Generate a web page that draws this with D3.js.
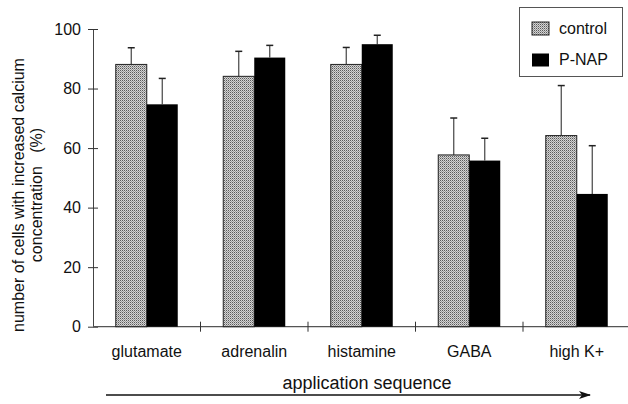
<!DOCTYPE html>
<html>
<head>
<meta charset="utf-8">
<script src="https://cdn.jsdelivr.net/npm/d3@7"></script>
<style>
  body { margin: 0; background: #fff; }
  text { font-family: "Liberation Sans", Arial, sans-serif; fill: #111; }
</style>
</head>
<body>
<script>
//chart data
var categories = ["glutamate", "adrenalin", "histamine", "GABA", "high K+"];
var series = ["control", "P-NAP"];
var controlValues = [88.1, 84.1, 88.1, 57.7, 64.2];
var controlErrors = [5.6, 8.4, 5.7, 12.4, 16.8];
var pnapValues = [74.7, 90.4, 94.9, 55.8, 44.6];
var pnapErrors = [8.7, 4.1, 3.0, 7.5, 16.2];
var yTicks = [0, 20, 40, 60, 80, 100];

//svg frame
var width = 628,
    height = 404;

var svg = d3.select("body")
    .append("svg")
    .attr("width", width)
    .attr("height", height);

//stipple pattern for control bars
var defs = svg.append("defs");
var pat = defs.append("pattern")
    .attr("id", "stipple")
    .attr("width", 2)
    .attr("height", 2)
    .attr("patternUnits", "userSpaceOnUse");
pat.append("rect").attr("width", 2).attr("height", 2).attr("fill", "#d4d4d4");
pat.append("rect").attr("width", 1).attr("height", 1).attr("fill", "#5a5a5a");
pat.append("rect").attr("x", 1).attr("y", 1).attr("width", 1).attr("height", 1).attr("fill", "#9a9a9a");

//arrow marker
defs.append("marker")
    .attr("id", "arrow")
    .attr("viewBox", "0 0 12 8")
    .attr("refX", 11)
    .attr("refY", 4)
    .attr("markerWidth", 12)
    .attr("markerHeight", 8)
    .attr("markerUnits", "userSpaceOnUse")
    .attr("orient", "auto")
    .append("path")
    .attr("d", "M0,0 L12,4 L0,8 L3,4 Z")
    .attr("fill", "#111");

//scales
var x = d3.scaleBand()
    .domain(categories)
    .range([93, 630.5]);

var y = d3.scaleLinear()
    .domain([0, 100])
    .range([326.7, 29]);

var barW = 31;

//axes
var yAxis = d3.axisLeft(y).tickValues(yTicks).tickSize(0).tickPadding(12);
var gy = svg.append("g")
    .attr("transform", "translate(93,0)")
    .call(yAxis);
gy.select(".domain").attr("stroke", "#444");
gy.selectAll("text").style("font-size", "16px").attr("font-family", null);
gy.selectAll(".tick").append("line")
    .attr("x1", -5).attr("x2", 5)
    .attr("stroke", "#333");

var gx = svg.append("g");
gx.append("line")
    .attr("x1", 93).attr("x2", 630)
    .attr("y1", y(0)).attr("y2", y(0))
    .attr("stroke", "#555")
    .attr("stroke-width", 1.3);
gx.selectAll(".xtick")
    .data(categories.slice(1))
    .enter()
    .append("line")
    .attr("class", "xtick")
    .attr("x1", function(d){ return x(d); })
    .attr("x2", function(d){ return x(d); })
    .attr("y1", y(0) - 5)
    .attr("y2", y(0) + 5)
    .attr("stroke", "#333");
gx.selectAll(".xlabel")
    .data(categories)
    .enter()
    .append("text")
    .attr("class", "xlabel")
    .attr("x", function(d){ return x(d) + x.bandwidth() / 2; })
    .attr("y", 357)
    .attr("text-anchor", "middle")
    .style("font-size", "16px")
    .text(function(d){ return d; });

//bars
var groups = svg.selectAll(".grp")
    .data(categories)
    .enter()
    .append("g")
    .attr("class", "grp");

function center(i){ return x(categories[i]) + x.bandwidth() / 2; }

//error bars (upward only)
function drawErr(vals, errs, offset){
    var g = svg.append("g");
    vals.forEach(function(v, i){
        var cx = center(i) + offset;
        g.append("line")
            .attr("x1", cx).attr("x2", cx)
            .attr("y1", y(v)).attr("y2", y(v + errs[i]))
            .attr("stroke", "#444").attr("stroke-width", 1.2);
        g.append("line")
            .attr("x1", cx - 3.5).attr("x2", cx + 3.5)
            .attr("y1", y(v + errs[i])).attr("y2", y(v + errs[i]))
            .attr("stroke", "#222").attr("stroke-width", 1.5);
    });
}
drawErr(controlValues, controlErrors, -barW / 2);
drawErr(pnapValues, pnapErrors, barW / 2);

svg.append("g").selectAll("rect")
    .data(controlValues)
    .enter()
    .append("rect")
    .attr("x", function(d, i){ return center(i) - barW; })
    .attr("y", function(d){ return y(d); })
    .attr("width", barW)
    .attr("height", function(d){ return y(0) - y(d); })
    .attr("fill", "url(#stipple)")
    .attr("stroke", "#222")
    .attr("stroke-width", 1);

svg.append("g").selectAll("rect")
    .data(pnapValues)
    .enter()
    .append("rect")
    .attr("x", function(d, i){ return center(i); })
    .attr("y", function(d){ return y(d); })
    .attr("width", barW)
    .attr("height", function(d){ return y(0) - y(d); })
    .attr("fill", "#000");

//y axis label
var ylab = svg.append("text")
    .attr("transform", "translate(0,195) rotate(-90)")
    .attr("text-anchor", "middle")
    .style("font-size", "16px");
ylab.append("tspan").attr("x", 0).attr("y", 23.5).text("number of cells with increased calcium");
ylab.append("tspan").attr("x", 0).attr("y", 42).style("white-space", "pre").text("concentration   (%)");

//x axis title and arrow
svg.append("text")
    .attr("x", 367)
    .attr("y", 389)
    .attr("text-anchor", "middle")
    .style("font-size", "18px")
    .text("application sequence");

svg.append("line")
    .attr("x1", 106).attr("x2", 590)
    .attr("y1", 395).attr("y2", 395)
    .attr("stroke", "#111")
    .attr("stroke-width", 1.3)
    .attr("marker-end", "url(#arrow)");

//legend
var legend = svg.append("g");
legend.append("rect")
    .attr("x", 519.5).attr("y", 7.5)
    .attr("width", 103).attr("height", 69)
    .attr("fill", "#fff")
    .attr("stroke", "#555");
var fills = ["url(#stipple)", "#000"];
series.forEach(function(s, i){
    legend.append("rect")
        .attr("x", 532).attr("y", 22 + i * 31.5)
        .attr("width", 17).attr("height", 13)
        .attr("fill", fills[i])
        .attr("stroke", i === 0 ? "#222" : "none");
    legend.append("text")
        .attr("x", 559).attr("y", 33.5 + i * 31.5)
        .style("font-size", "16px")
        .text(s);
});
</script>
</body>
</html>
